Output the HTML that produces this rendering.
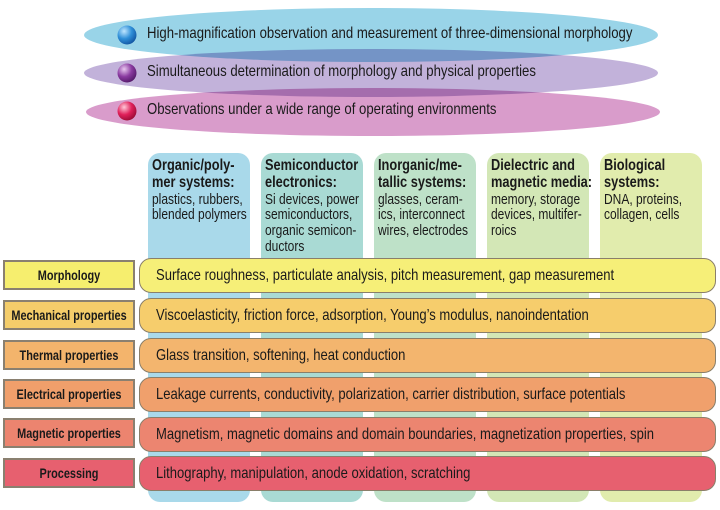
<!DOCTYPE html>
<html><head><meta charset="utf-8"><style>
body{margin:0;width:720px;height:510px;background:#fff;position:relative;overflow:hidden;font-family:"Liberation Sans",sans-serif;color:#1a1a1a}
.a{position:absolute}
.s{display:inline-block;white-space:nowrap;transform-origin:0 0}
.col{position:absolute;top:153px;height:349px;width:102px;border-radius:12px}
.ct{position:absolute;top:158px;font-size:15px;line-height:15.8px;white-space:nowrap;transform:scaleX(0.8);transform-origin:0 0}
.ct b{font-size:16px;line-height:16.8px;display:block}
.bar{position:absolute;left:139px;width:577px;height:35px;border:1px solid #8a7f6a;border-radius:12px;box-sizing:border-box;font-size:16px;line-height:33px;padding-left:16px;white-space:nowrap}
.bar .s{transform:scaleX(0.815)}
.lab{position:absolute;left:3px;width:132px;height:30px;border:2px solid #8a8070;box-sizing:border-box;font-weight:bold;font-size:14px;line-height:26px;white-space:nowrap}
.lab .s{position:absolute;left:50%;top:0;transform:translateX(-50%) scaleX(0.78);transform-origin:50% 0}
.et{position:absolute;left:147px;font-size:16px;white-space:nowrap;transform:scaleX(0.822);transform-origin:0 0}
</style></head><body>
<svg class="a" style="left:0;top:0" width="720" height="150">
<ellipse cx="371" cy="35" rx="287" ry="27" fill="#99d4e8" style="mix-blend-mode:multiply"/>
<ellipse cx="371" cy="73" rx="287" ry="24" fill="#c2b2da" style="mix-blend-mode:multiply"/>
<ellipse cx="373" cy="112" rx="287" ry="24" fill="#d99ccb" style="mix-blend-mode:multiply"/>
<defs>
<radialGradient id="g1" cx="0.35" cy="0.3" r="0.8"><stop offset="0" stop-color="#bfe6ff"/><stop offset="0.5" stop-color="#2f8fd8"/><stop offset="1" stop-color="#0d4c99"/></radialGradient>
<radialGradient id="g2" cx="0.35" cy="0.3" r="0.8"><stop offset="0" stop-color="#e8c8f0"/><stop offset="0.5" stop-color="#8a3aa0"/><stop offset="1" stop-color="#4b1460"/></radialGradient>
<radialGradient id="g3" cx="0.35" cy="0.3" r="0.8"><stop offset="0" stop-color="#ffc8d8"/><stop offset="0.5" stop-color="#e0205a"/><stop offset="1" stop-color="#90082e"/></radialGradient>
</defs>
<circle cx="127" cy="35" r="9.5" fill="url(#g1)"/>
<circle cx="127" cy="73" r="9.5" fill="url(#g2)"/>
<circle cx="127" cy="111" r="9.5" fill="url(#g3)"/>
</svg>
<div class="et" style="top:25px">High-magnification observation and measurement of three-dimensional morphology</div>
<div class="et" style="top:63px">Simultaneous determination of morphology and physical properties</div>
<div class="et" style="top:101px">Observations under a wide range of operating environments</div>

<div class="col" style="left:148px;background:#a9d9ea"></div>
<div class="col" style="left:261px;background:#a9dad4"></div>
<div class="col" style="left:374px;background:#bee1c8"></div>
<div class="col" style="left:487px;background:#d3e7b6"></div>
<div class="col" style="left:600px;background:#e1ecad"></div>

<div class="ct" style="left:152px"><b>Organic/poly-<br>mer systems:</b>plastics, rubbers,<br>blended polymers</div>
<div class="ct" style="left:265px"><b>Semiconductor<br>electronics:</b>Si devices, power<br>semiconductors,<br>organic semicon-<br>ductors</div>
<div class="ct" style="left:378px"><b>Inorganic/me-<br>tallic systems:</b>glasses, ceram-<br>ics, interconnect<br>wires, electrodes</div>
<div class="ct" style="left:491px"><b>Dielectric and<br>magnetic media:</b>memory, storage<br>devices, multifer-<br>roics</div>
<div class="ct" style="left:604px"><b>Biological<br>systems:</b>DNA, proteins,<br>collagen, cells</div>

<div class="lab" style="top:260px;background:#f6ee6e"><span class="s">Morphology</span></div>
<div class="bar" style="top:258px;background:#f6ef78"><span class="s">Surface roughness, particulate analysis, pitch measurement, gap measurement</span></div>
<div class="lab" style="top:300px;background:#f5cd6a"><span class="s">Mechanical properties</span></div>
<div class="bar" style="top:298px;background:#f6cd6c"><span class="s">Viscoelasticity, friction force, adsorption, Young’s modulus, nanoindentation</span></div>
<div class="lab" style="top:340px;background:#f3b46c"><span class="s">Thermal properties</span></div>
<div class="bar" style="top:338px;background:#f3b56e"><span class="s">Glass transition, softening, heat conduction</span></div>
<div class="lab" style="top:379px;background:#f09f6b"><span class="s">Electrical properties</span></div>
<div class="bar" style="top:377px;background:#f0a06c"><span class="s">Leakage currents, conductivity, polarization, carrier distribution, surface potentials</span></div>
<div class="lab" style="top:418px;background:#ec846f"><span class="s">Magnetic properties</span></div>
<div class="bar" style="top:417px;background:#ec8570"><span class="s">Magnetism, magnetic domains and domain boundaries, magnetization properties, spin</span></div>
<div class="lab" style="top:458px;background:#e7606f"><span class="s">Processing</span></div>
<div class="bar" style="top:456px;background:#e7606f"><span class="s">Lithography, manipulation, anode oxidation, scratching</span></div>
</body></html>
